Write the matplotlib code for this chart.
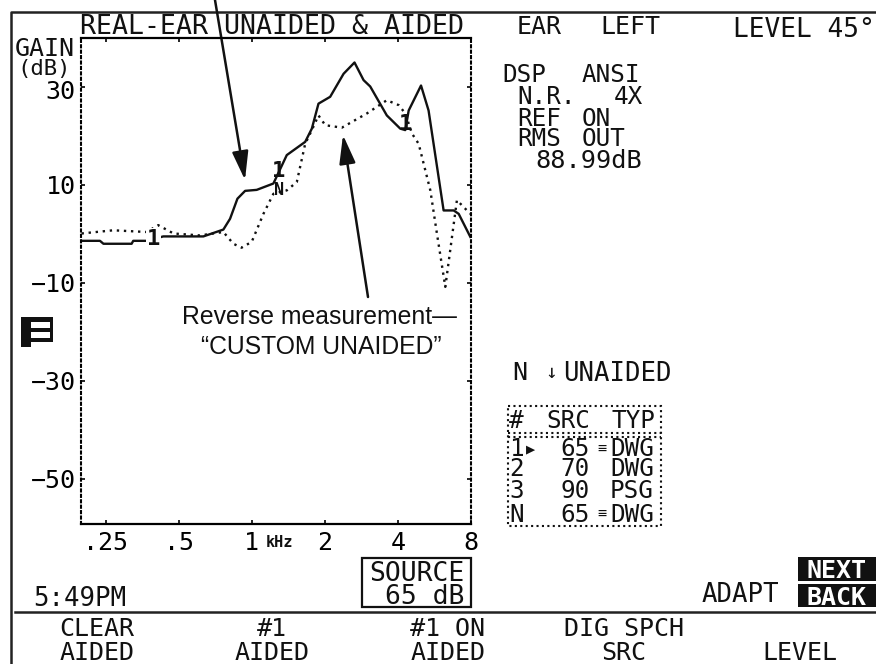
import matplotlib
matplotlib.use('Agg')
import matplotlib.pyplot as plt
from matplotlib.patches import Rectangle
from matplotlib.transforms import ScaledTranslation

# curves: frequency in kHz, gain in dB
aided_freq = [0.199, 0.237, 0.245, 0.32, 0.325, 0.369, 0.432, 0.54, 0.632, 0.764, 0.814, 0.873, 0.939, 1.048,
              1.228, 1.394, 1.66, 1.768, 1.883, 2.104, 2.389, 2.65, 2.888, 3.076, 3.6, 4.09, 4.29, 4.43, 4.98,
              5.35, 5.61, 6.17, 6.79, 7.12, 7.95]
aided_gain = [-1.4, -1.4, -2.0, -2.0, -1.4, -1.4, -0.5, -0.5, -0.5, 0.9, 3.1, 7.2, 8.8, 9.0,
              10.3, 16.1, 18.8, 21.5, 26.6, 28.0, 32.7, 35.0, 31.4, 30.1, 24.2, 21.5, 21.2, 25.2, 30.3,
              25.2, 18.4, 4.8, 4.8, 4.1, -0.6]
unaided_freq = [0.199, 0.269, 0.369, 0.412, 0.476, 0.612, 0.764, 0.84, 0.908, 1.0, 1.117, 1.228, 1.394, 1.533,
                1.66, 1.768, 1.883, 2.008, 2.35, 2.98, 3.6, 4.03, 4.29, 4.57, 4.87, 5.44, 5.79, 6.27, 7.0, 7.95]
unaided_gain = [0.1, 0.75, 0.4, 1.8, 0.1, -0.3, 0.4, -2.0, -2.8, -1.6, 4.1, 8.2, 8.9, 10.6,
                18.4, 21.2, 24.2, 22.2, 21.7, 24.6, 27.3, 26.3, 24.6, 20.5, 18.4, 8.9, 0.1, -10.8, 6.9, 4.1]
freq_ticks = [0.25, 0.5, 1, 2, 4, 8]
freq_labels = ['.25', '.5', '1', '2', '4', '8']
gain_ticks = [30, 10, -10, -30, -50]

table_ids = ['1', '2', '3', 'N']
table_src = ['65', '70', '90', '65']
table_typ = ['DWG', 'DWG', 'PSG', 'DWG']

W, H = 876, 664
INK = '#111111'
plt.rcParams['font.family'] = 'DejaVu Sans Mono'

fig = plt.figure(figsize=(W / 100, H / 100), dpi=100)

# overlay in pixel coordinates for the instrument screen furniture
bg = fig.add_axes([0, 0, 1, 1])
bg.set_xlim(0, W)
bg.set_ylim(H, 0)
bg.axis('off')

ax = fig.add_axes([81 / W, 1 - 524 / H, 390 / W, 486 / H])
ax.set_xscale('log', base=2)
ax.set_xlim(0.198, 8)
ax.set_ylim(-59.2, 40)
ax.patch.set_alpha(0)
ax.plot(unaided_freq, unaided_gain, color=INK, lw=1.7, ls=(0, (1, 2.0)))
ax.plot(aided_freq, aided_gain, color=INK, lw=1.7)
ax.set_xticks(freq_ticks)
ax.set_xticklabels(freq_labels, fontsize=18)
ax.set_yticks(gain_ticks)
ax.set_yticklabels([str(g).replace('-', '\u2212') for g in gain_ticks], fontsize=18)
ax.minorticks_off()
ax.tick_params(axis='x', direction='in', length=3, width=1.2, top=True, pad=5)
ax.tick_params(axis='y', direction='in', length=3, width=1.2, right=True, pad=4)
# the 30 sits a little under its tick on the screen
top_label = ax.get_yticklabels()[0]
top_label.set_transform(top_label.get_transform() + ScaledTranslation(0, -3 / 100, fig.dpi_scale_trans))
for side in ('left', 'right'):
    ax.spines[side].set_linestyle((0, (1, 1.6)))
    ax.spines[side].set_linewidth(1.5)
for side in ('top', 'bottom'):
    ax.spines[side].set_linewidth(1.6)

# curve markers
ax.text(0.393, -0.6, '1', ha='center', va='center_baseline', fontsize=16, weight='bold', color=INK,
        bbox=dict(fc='white', ec='none', pad=0.5), zorder=5)
for label, freq, gain, size in [('1', 1.29, 13.3, 16), ('N', 1.29, 9.4, 12), ('1', 4.29, 22.9, 16)]:
    ax.text(freq, gain, label, ha='center', va='center_baseline', fontsize=size, weight='bold', color=INK, zorder=5)

# frame and separator
bg.plot([11, 11, W], [H, 11.5, 11.5], color='#222222', lw=1.8)
bg.plot([15, W], [612, 612], color='#222222', lw=1.8)


def txt(x, y, s, size=17.5, ha='left', color=INK, **kw):
    bg.text(x, y - 1, s, fontsize=size, ha=ha, va='center_baseline', color=color, **kw)


txt(80, 25, 'REAL-EAR UNAIDED & AIDED', size=19.2)
txt(517, 25, 'EAR', size=18)
txt(600, 25, 'LEFT', size=18)
txt(733, 28, 'LEVEL 45\u00b0', size=18.8)
txt(15, 47, 'GAIN', size=18)
txt(17, 68, '(dB)', size=16)

txt(502, 73, 'DSP')
txt(582, 73, 'ANSI')
txt(517, 95, 'N.R.')
txt(614, 95, '4X')
txt(517, 117, 'REF')
txt(582, 117, 'ON')
txt(517, 138, 'RMS')
txt(582, 138, 'OUT')
txt(535, 160, '88.99dB', size=18.2)

txt(512, 372, 'N', size=18)
txt(545, 372, '\u2193', size=14)
txt(563, 372, 'UNAIDED', size=18.5)

# source table
txt(509, 420, '#')
txt(546, 420, 'SRC')
txt(611, 420, 'TYP')
for row_y, row_id, src, typ in zip([448, 468, 490, 513], table_ids, table_src, table_typ):
    txt(509, row_y, row_id)
    txt(560, row_y, src)
    txt(610, row_y, typ)
    if src == '65':
        txt(597, row_y, '\u2261', size=11)
txt(526, 448, '\u25b6', size=11)
bg.add_patch(Rectangle((508, 406), 153, 120, fill=False, ec=INK, lw=1.5, ls=(0, (1, 1.6))))
bg.plot([508, 661], [433, 433], color=INK, lw=1.5, ls=(0, (1, 1.6)))
bg.plot([508, 661], [437, 437], color=INK, lw=1.5, ls=(0, (1, 1.6)))

txt(266, 542, 'kHz', size=11, weight='bold')
txt(33, 597, '5:49PM', size=18.5)
bg.add_patch(Rectangle((362, 558), 109, 49, fill=False, ec=INK, lw=1.6))
txt(417, 572, 'SOURCE', size=19, ha='center')
txt(385, 595, '65 dB', size=19)
txt(702, 593, 'ADAPT', size=18.5)

for top, bottom, s in [(557, 581, 'NEXT'), (584, 607, 'BACK')]:
    bg.add_patch(Rectangle((798, top), 78, bottom - top, color=INK, lw=0))
    txt(837, (top + bottom) / 2 + 1, s, size=18, ha='center', color='white', weight='bold')

for x, top_key, bottom_key in [(97, 'CLEAR', 'AIDED'), (272, '#1', 'AIDED'), (448, '#1 ON', 'AIDED'),
                               (624, 'DIG SPCH', 'SRC'), (800, '', 'LEVEL')]:
    txt(x, 628, top_key, size=18, ha='center')
    txt(x, 652, bottom_key, size=18, ha='center')

# annotation text and arrows
txt(319, 316, 'Reverse measurement\u2014', size=17.8, ha='center', family='Liberation Sans')
txt(321, 346, '\u201cCUSTOM UNAIDED\u201d', size=17.8, ha='center', family='Liberation Sans')
arrow = dict(arrowstyle='-|>,head_length=0.6,head_width=0.17', color=INK, lw=1.8, mutation_scale=29,
             shrinkA=0, shrinkB=0)
bg.annotate('', xy=(245, 180), xytext=(215, 0), arrowprops=arrow, zorder=6)
bg.annotate('', xy=(343, 135), xytext=(368, 297), arrowprops=arrow, zorder=6)

# front panel logo
for x0, y0, w, h in [(21, 317, 10, 30), (21, 317, 32, 5), (50, 317, 3, 25), (31, 328, 22, 4), (31, 338, 22, 4)]:
    bg.add_patch(Rectangle((x0, y0), w, h, color=INK, lw=0))

fig.savefig('out.png', dpi=100)
